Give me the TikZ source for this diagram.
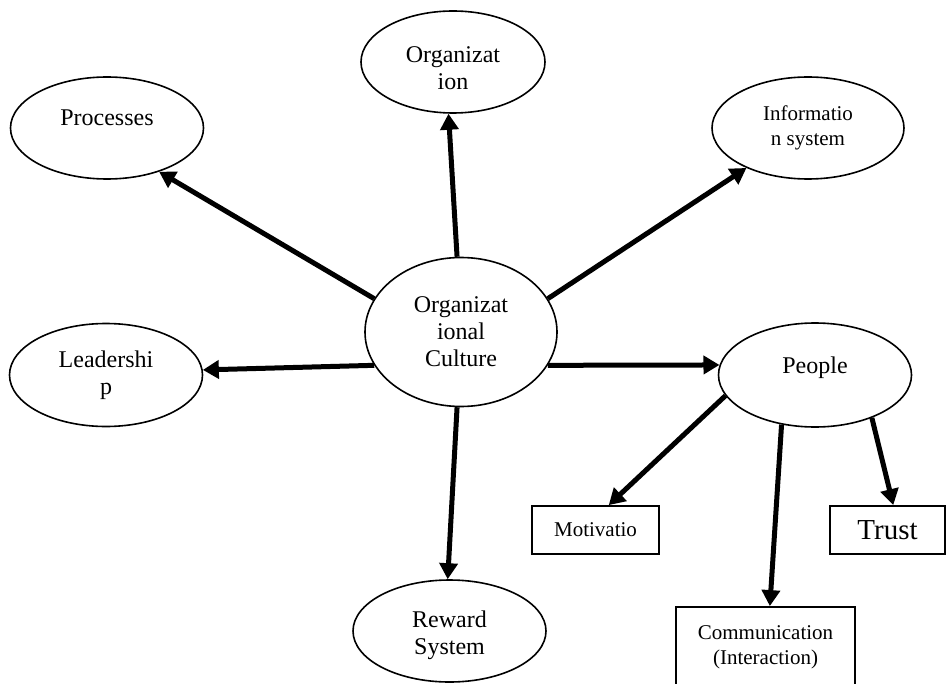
\documentclass[tikz,border=0pt]{standalone}
\usepackage{fontspec}
\setmainfont{Liberation Serif}
\usetikzlibrary{arrows.meta,shapes.geometric}
\newcommand{\bigtxt}{\fontsize{12}{13.5}\selectfont}
\newcommand{\smalltxt}{\fontsize{10.5}{12.5}\selectfont}
\begin{document}
\begin{tikzpicture}[x=0.5pt, y=-0.5pt,
	blob/.style={ellipse,draw,line width=0.8pt,minimum width=96.5pt,minimum height=51pt,align=center,inner sep=0pt,font=\bigtxt},
	box/.style={rectangle,draw,line width=0.9pt,align=center,inner sep=0pt,font=\smalltxt},
	fat arrow/.style={line width=2.5pt,-{Triangle[length=8pt,width=9pt]}}]
	\useasboundingbox (0,0) rectangle (946,684);
	% Place nodes
	\node [blob,minimum width=96pt,minimum height=74.5pt] (culture) at (461,332) {Organizat\\ional\\Culture};
	\node [blob,minimum width=92pt,text height=28pt] (org) at (453,62) {Organizat\\ion};
	\node [blob,text depth=10pt] (proc) at (107,128) {Processes};
	\node [blob,minimum width=96pt,font=\smalltxt] (info) at (808,128) {Informatio\\n system};
	\node [blob,minimum height=51.5pt] (lead) at (106,375) {Leadershi\\p};
	\node [blob,minimum height=52pt,text depth=10pt] (people) at (815,375) {People};
	\node [blob,text height=26.5pt] (reward) at (449.5,631) {Reward\\System};
	
	\node [box,minimum width=63.5pt,minimum height=24pt] (moti) at (595.5,530) {Motivatio};
	\node [box,minimum width=57.5pt,minimum height=24pt,font=\fontsize{14.5}{16}\selectfont] (trust) at (887.5,530) {Trust};
	\node [box,minimum width=89.5pt,minimum height=40.5pt] (comm) at (765.5,647.5) {Communication\\(Interaction)};
	
	% Arrows out of the culture
	\draw [fat arrow] (culture.93) -- (org.265);
	\draw [fat arrow] (culture.159) -- (proc.320);
	\draw [fat arrow] (culture.21) -- (info.213);
	\draw [fat arrow] (culture.201) -- (lead.3);
	\draw [fat arrow] (culture.339) -- (people.174);
	\draw [fat arrow] (culture.267) -- (reward.92);
	
	% Arrows out of people
	\draw [fat arrow] (people.193) -- (moti.62);
	\draw [fat arrow] (people.236) -- (comm.84);
	\draw [fat arrow] (people.323) -- (trust.77);
\end{tikzpicture}
\end{document}
